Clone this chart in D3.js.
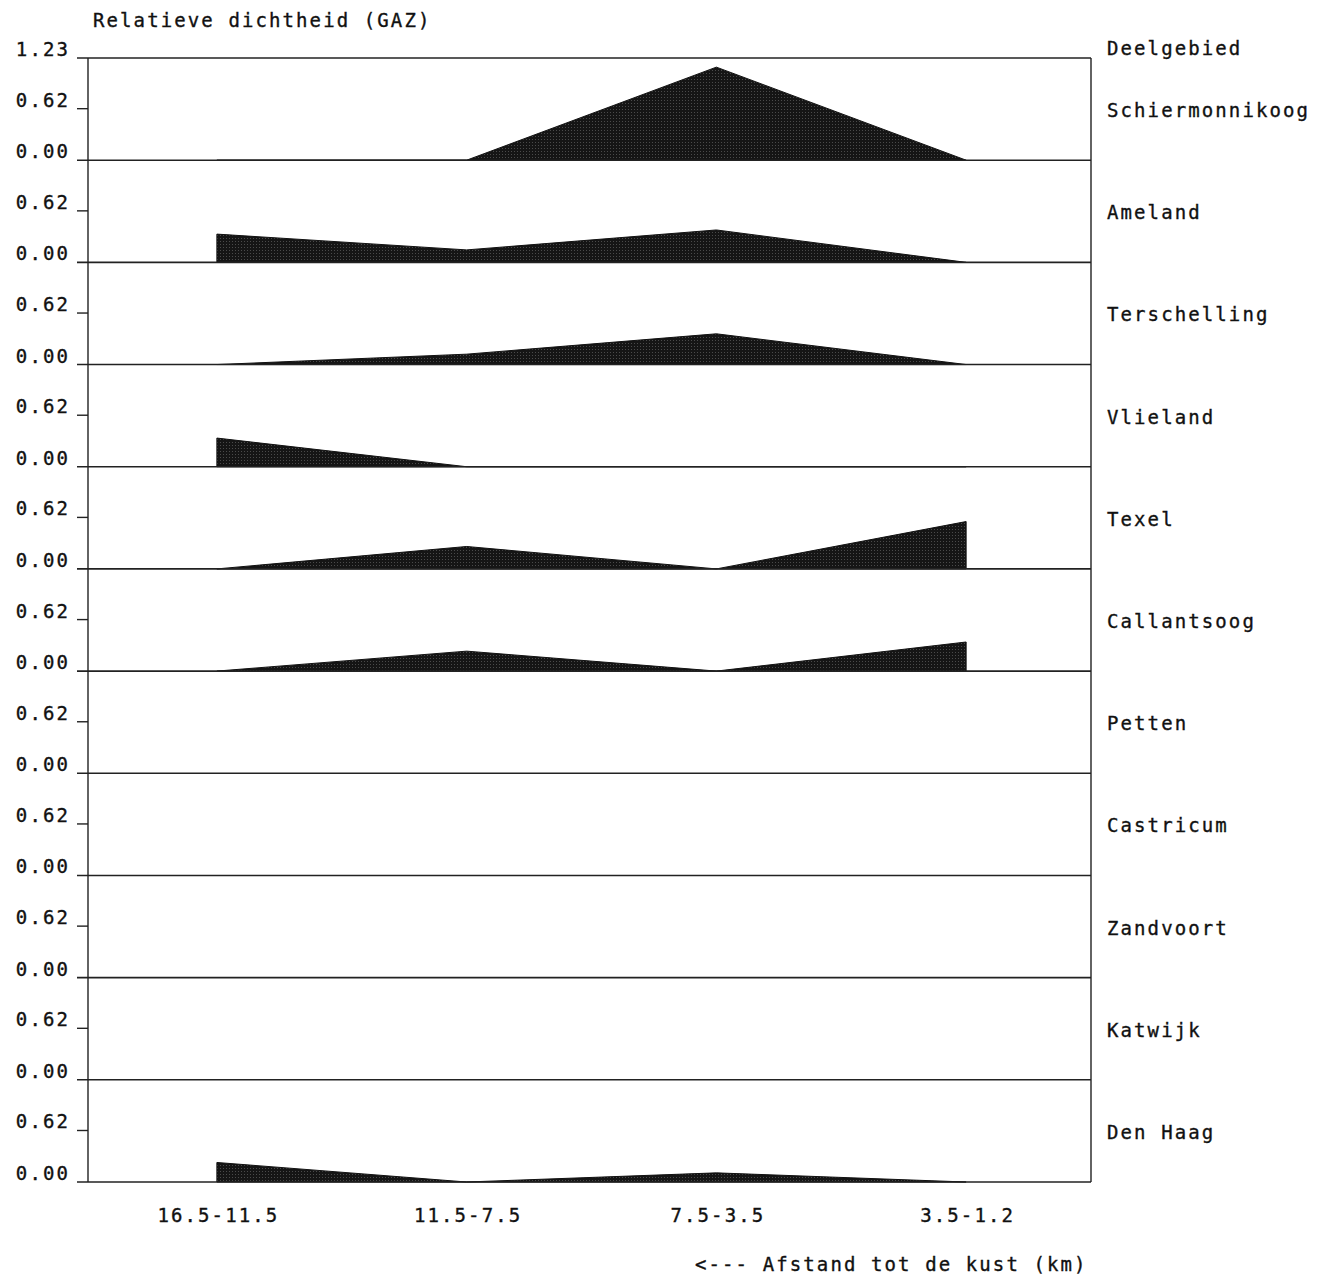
<!DOCTYPE html>
<html>
<head>
<meta charset="utf-8">
<script src="https://cdn.jsdelivr.net/npm/d3@7/dist/d3.min.js"></script>
<style>
  html, body { margin: 0; padding: 0; background: #fff; }
  text { font-family: "DejaVu Sans Mono", "Liberation Mono", monospace; font-size: 19px; letter-spacing: 2.1px; fill: #111; stroke: #111; stroke-width: 0.35px; }
</style>
</head>
<body>
<svg id="chart" width="1327" height="1277"></svg>
<script>
// ---- data ----
const categories = ["16.5-11.5", "11.5-7.5", "7.5-3.5", "3.5-1.2"];
const regions = ["Schiermonnikoog", "Ameland", "Terschelling", "Vlieland", "Texel",
  "Callantsoog", "Petten", "Castricum", "Zandvoort", "Katwijk", "Den Haag"];
const schiermonnikoog = [0, 0, 1.12, 0];
const ameland        = [0.34, 0.15, 0.39, 0];
const terschelling   = [0, 0.125, 0.37, 0];
const vlieland       = [0.345, 0, 0, 0];
const texel          = [0, 0.27, 0, 0.57];
const callantsoog    = [0, 0.24, 0, 0.35];
const petten         = [0, 0, 0, 0];
const castricum      = [0, 0, 0, 0];
const zandvoort      = [0, 0, 0, 0];
const katwijk        = [0, 0, 0, 0];
const denHaag        = [0.235, 0, 0.11, 0];
const yTicks = [0.00, 0.62, 1.23];
const yTickLabels = ["0.00", "0.62", "1.23"];
const yMax = 1.23;

const series = [schiermonnikoog, ameland, terschelling, vlieland, texel,
  callantsoog, petten, castricum, zandvoort, katwijk, denHaag];

// ---- layout ----
const plotLeft = 88, plotRight = 1091, plotTop = 58, plotBottom = 1182;
const panelH = (plotBottom - plotTop) / regions.length;
const svg = d3.select("#chart");

const defs = svg.append("defs");
const pat = defs.append("pattern").attr("id", "stipple")
  .attr("width", 3).attr("height", 3).attr("patternUnits", "userSpaceOnUse");
pat.append("rect").attr("width", 3).attr("height", 3).attr("fill", "#151515");
pat.append("rect").attr("x", 1).attr("y", 1).attr("width", 1).attr("height", 1).attr("fill", "#4a4a4a");

const x = d3.scalePoint().domain(categories).range([plotLeft + 4, plotRight]).padding(0.5);

// title
svg.append("text").attr("x", 93).attr("y", 27).text("Relatieve dichtheid (GAZ)");
svg.append("text").attr("x", 1107).attr("y", 55).text("Deelgebied");

regions.forEach((name, i) => {
  const p0 = plotTop + i * panelH;
  const p1 = p0 + panelH;
  const y = d3.scaleLinear().domain([0, yMax]).range([p1, p0]);
  const g = svg.append("g");

  const area = d3.area()
    .x((d, j) => x(categories[j]))
    .y0(y(0))
    .y1(d => y(d));
  const vals = series[i];
  if (d3.max(vals) > 0) {
    g.append("path").datum(vals).attr("d", area)
      .attr("fill", "url(#stipple)").attr("stroke", "#111").attr("stroke-width", 1)
      .attr("stroke-linejoin", "round");
  }

  // baseline
  g.append("line").attr("x1", 77).attr("x2", plotRight).attr("y1", y(0)).attr("y2", y(0))
    .attr("stroke", "#222").attr("stroke-width", 1.6);
  // mid tick
  g.append("line").attr("x1", 77).attr("x2", plotLeft).attr("y1", y(0.62)).attr("y2", y(0.62))
    .attr("stroke", "#222").attr("stroke-width", 1.4);

  // tick labels
  const tickIdx = i === 0 ? [0, 1, 2] : [0, 1];
  tickIdx.forEach(k => {
    g.append("text").attr("x", 70).attr("y", y(yTicks[k]) - 2)
      .attr("text-anchor", "end").text(yTickLabels[k]);
  });

  // region label
  g.append("text").attr("x", 1107).attr("y", (p0 + p1) / 2 + 8).text(name);
});

// top line, left axis and right border
svg.append("line").attr("x1", 77).attr("x2", plotRight).attr("y1", plotTop).attr("y2", plotTop)
  .attr("stroke", "#222").attr("stroke-width", 1.6);
svg.append("line").attr("x1", plotLeft).attr("x2", plotLeft).attr("y1", plotTop).attr("y2", plotBottom)
  .attr("stroke", "#222").attr("stroke-width", 1.4);
svg.append("line").attr("x1", plotRight).attr("x2", plotRight).attr("y1", plotTop).attr("y2", plotBottom)
  .attr("stroke", "#222").attr("stroke-width", 1.4);

// x-axis labels
const xAxis = d3.axisBottom(x).tickSize(0).tickPadding(0);
const ax = svg.append("g").attr("transform", `translate(0, ${plotBottom})`).call(xAxis);
ax.select(".domain").remove();
ax.selectAll("text").attr("dy", null).attr("y", 40).attr("dx", 1)
  .style("font-family", '"DejaVu Sans Mono", monospace').style("font-size", "19px")
  .attr("fill", "#111");

svg.append("text").attr("x", 695).attr("y", 1271).text("<--- Afstand tot de kust (km)");
</script>
</body>
</html>
